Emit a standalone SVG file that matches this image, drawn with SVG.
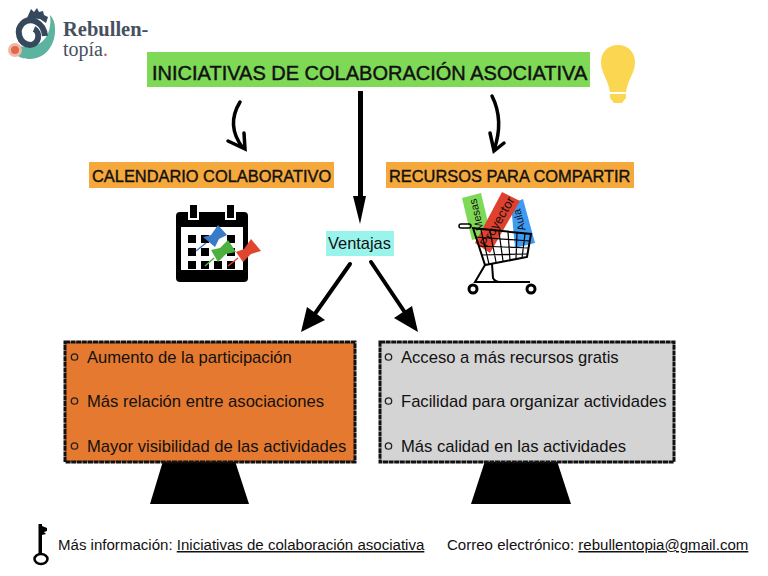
<svg xmlns="http://www.w3.org/2000/svg" width="768" height="576" viewBox="0 0 768 576">
<style>
text{font-family:"Liberation Sans",Arial,sans-serif;fill:#111}
.h{font-size:16.4px;stroke:#111;stroke-width:.4px}
.li{font-size:16.6px}
.f{font-size:15.05px}
.bul{fill:none;stroke:#222;stroke-width:1.3}
.box{stroke:#111;stroke-width:3;stroke-dasharray:5 .6}
.arr{fill:none;stroke:#000;stroke-linecap:round}
.cart{fill:none;stroke:#000}
.cell{fill:#000}
</style>
<rect width="768" height="576" fill="#fff"/>
<g id="logo">
<path d="M12 44C20 47 26 47 32 46C46 44 52 30 50 15C53 18 55 23 55 28C56 45 45 59 30 59C22 59 12 56 12 44Z" fill="#5cb3a0"/>
<path d="M45 36C44 23 31 16 23 23C15 30 19 44 30 45C39 45 41 32 34 29" fill="none" stroke="#36495c" stroke-width="6"/>
<path d="M27 18L31 9L34 12L37 8L39 12L43 11L44 15L48 17L46 23L40 19Z" fill="#36495c"/>
<circle cx="15" cy="50" r="7" fill="#f0b9a5"/><circle cx="15" cy="50" r="4" fill="#e0694c"/>
<text x="63" y="36" style="font-family:'Liberation Serif',serif;font-size:20.5px;font-weight:700;fill:#465060">Rebullen-</text>
<text x="63" y="56" style="font-family:'Liberation Serif',serif;font-size:20px;fill:#465060">topía<tspan fill="#d9534f">.</tspan></text>
</g>
<g id="titulo">
<rect x="147" y="52" width="443" height="35" fill="#7ed957"/>
<text x="152" y="80" style="font-size:20px;stroke:#111;stroke-width:.45px">INICIATIVAS DE COLABORACIÓN ASOCIATIVA</text>
</g>
<g id="bombilla" fill="#fbd651">
<path d="M618 45C607 45 601 53 601 62C601 73 608 79 610 92H626C628 79 635 73 635 62C635 53 629 45 618 45Z"/>
<path d="M610 94H626V98L622 103H614L610 98Z"/>
</g>
<g id="conectores">
<path class="arr" stroke-width="3.500" d="M240 102C232 115 229 130 243 148M228 141L245 149L244 133"/>
<path class="arr" stroke-width="3.500" d="M492 96C500 112 501 130 494 150M490 133L494 151L504 143"/>
<path d="M358 91H363V196L366 196L360 224L353 196L358 196Z" fill="#000"/>
<path class="arr" stroke-width="4" d="M350 264L312 318"/>
<path d="M301 332L307 307L325 320Z" fill="#000"/>
<path class="arr" stroke-width="4" d="M371 262L408 317"/>
<path d="M418 332L394 318L412 306Z" fill="#000"/>
</g>
<g id="calendario-titulo">
<rect x="89" y="162" width="245" height="26" fill="#f5a93d"/>
<text x="92" y="182" class="h">CALENDARIO COLABORATIVO</text>
</g>
<g id="recursos-titulo">
<rect x="386" y="162" width="248" height="26" fill="#f5a93d"/>
<text x="389" y="182" class="h">RECURSOS PARA COMPARTIR</text>
</g>
<g id="calendario">
<rect x="176" y="212" width="72" height="70" rx="4" fill="#000"/>
<rect x="181" y="227" width="62" height="43" fill="#fff"/>
<rect x="189" y="204" width="9" height="15" fill="#000" stroke="#fff" stroke-width="2"/>
<rect x="226" y="204" width="9" height="15" fill="#000" stroke="#fff" stroke-width="2"/>
<rect class="cell" x="188" y="235" width="8" height="8"/><rect class="cell" x="201" y="235" width="8" height="8"/><rect class="cell" x="227" y="235" width="8" height="8"/>
<rect class="cell" x="188" y="248" width="8" height="8"/><rect class="cell" x="201" y="248" width="8" height="8"/><rect class="cell" x="227" y="248" width="8" height="8"/>
<rect class="cell" x="188" y="261" width="8" height="8"/><rect class="cell" x="201" y="261" width="8" height="8"/><rect class="cell" x="214" y="261" width="8" height="8"/><rect class="cell" x="227" y="261" width="8" height="8"/>
<path d="M196 251L206 243" stroke="#3a7bc8" stroke-width="1.500"/>
<path d="M203 237L211 235L218 225L227 235L219 239L215 247Z" fill="#3a7bc8"/>
<path d="M205 266L214 258" stroke="#4bb03c" stroke-width="1.500"/>
<path d="M211 250L220 248L228 240L236 252L226 254L218 262Z" fill="#4bb03c"/>
<path d="M228 266L238 258" stroke="#e0452f" stroke-width="1.500"/>
<path d="M236 252L244 249L251 239L261 251L251 254L243 262Z" fill="#e0452f"/>
</g>
<g id="carro">
<path d="M462 198L481 193L491 235L472 240Z" fill="#7ed957"/>
<text transform="translate(480 214) rotate(-103)" text-anchor="middle" style="font-size:11px">Mesas</text>
<path d="M511 204L523 199L535 243L515 248Z" fill="#3f9af2"/>
<text transform="translate(523 219) rotate(-105)" text-anchor="middle" style="font-size:11px">Aula</text>
<path d="M502 192L520 201L490 253L475 243Z" fill="#e0402e"/>
<text transform="translate(501 224) rotate(-60)" text-anchor="middle" style="font-size:13px">Proyector</text>
<path class="cart" stroke-width="2" d="M472 228L531 234L527 257L485 265L473 228"/>
<rect class="cart" stroke-width="1.500" x="459" y="224" width="12" height="4" rx="2"/>
<path class="cart" stroke-width="1.200" d="M475 237L530 241M478 246L529 248M481 255L528 254M481 230L489 264M490 231L496 262M499 232L503 261M508 232L510 260M517 233L516 259M525 234L522 258"/>
<path class="cart" stroke-width="2" d="M485 265L475 282H530M492 264L493 278Q495 282 500 282"/>
<circle cx="473" cy="289" r="4" fill="#fff" stroke="#000" stroke-width="3"/>
<circle cx="531" cy="289" r="4" fill="#fff" stroke="#000" stroke-width="3"/>
</g>
<g id="ventajas">
<rect x="326" y="231" width="68" height="25" fill="#99f5ec"/>
<text x="328" y="249" style="font-size:16.4px">Ventajas</text>
</g>
<g id="soporte-izq"><path d="M163 461H235L249 504H150Z" fill="#000"/></g>
<g id="soporte-der"><path d="M485 461H557L571 504H471Z" fill="#000"/></g>
<g id="caja-naranja">
<rect x="65" y="342" width="290" height="120" fill="#e4792f" class="box"/>
<circle class="bul" cx="74.500" cy="357" r="3.200"/>
<text x="87" y="363" class="li">Aumento de la participación</text>
<circle class="bul" cx="74.500" cy="401" r="3.200"/>
<text x="87" y="407" class="li">Más relación entre asociaciones</text>
<circle class="bul" cx="74.500" cy="446" r="3.200"/>
<text x="87" y="452" class="li">Mayor visibilidad de las actividades</text>
</g>
<g id="caja-gris">
<rect x="380" y="342" width="294" height="120" fill="#d4d4d4" class="box"/>
<circle class="bul" cx="388.500" cy="357" r="3.200"/>
<text x="401" y="363" class="li">Acceso a más recursos gratis</text>
<circle class="bul" cx="388.500" cy="401" r="3.200"/>
<text x="401" y="407" class="li">Facilidad para organizar actividades</text>
<circle class="bul" cx="388.500" cy="446" r="3.200"/>
<text x="401" y="452" class="li">Más calidad en las actividades</text>
</g>
<g id="llave">
<path d="M38.500 524H42V526L47 528V531L44 532L46 534L42 535V554H38.500Z" fill="#000"/>
<ellipse cx="41" cy="559" rx="6.500" ry="5" fill="#fff" stroke="#000" stroke-width="2.500"/>
</g>
<g id="pie">
<text x="58" y="550" class="f">Más información: <tspan text-decoration="underline">Iniciativas de colaboración asociativa</tspan></text>
<text x="447" y="550" class="f">Correo electrónico: <tspan text-decoration="underline">rebullentopia@gmail.com</tspan></text>
</g>
</svg>
